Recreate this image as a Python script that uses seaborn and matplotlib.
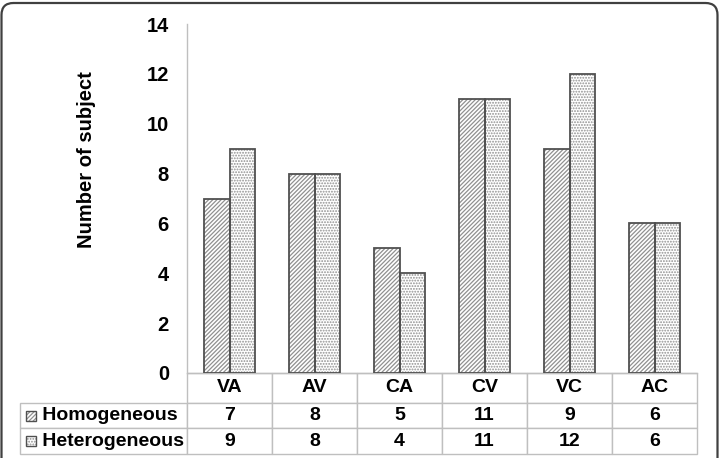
import matplotlib
matplotlib.use("Agg")
import matplotlib.pyplot as plt
from matplotlib.patches import Rectangle, FancyBboxPatch
from matplotlib.table import Table
import pandas as pd
import seaborn as sns

# data
categorias = ["VA", "AV", "CA", "CV", "VC", "AC"]
series = ["Homogeneous", "Heterogeneous"]
homogeneous = [7, 8, 5, 11, 9, 6]
heterogeneous = [9, 8, 4, 11, 12, 6]
hatches = ["////////", "......"]

df = pd.DataFrame({
    "grupo": categorias * 2,
    "serie": [series[0]] * len(categorias) + [series[1]] * len(categorias),
    "valor": homogeneous + heterogeneous,
})

sns.set_style("white")
plt.rcParams["font.family"] = ["Liberation Sans", "DejaVu Sans"]
plt.rcParams["hatch.linewidth"] = 0.9
plt.rcParams["text.color"] = "black"
plt.rcParams["axes.labelcolor"] = "black"
plt.rcParams["ytick.color"] = "black"

fig = plt.figure(figsize=(7.21, 4.58), dpi=100)
ax = fig.add_axes([187 / 721, 85 / 458, 510 / 721, 349 / 458])

sns.barplot(data=df, x="grupo", y="valor", hue="serie", hue_order=series,
            palette=["white", "white"], saturation=1, width=0.61,
            legend=False, ax=ax)

# hatch patterns + dark outlines
for cont, h in zip(ax.containers, hatches):
    for p in cont:
        p.set_hatch(h)
        p.set_edgecolor("#909090")
        p.set_linewidth(0)
        ax.add_patch(Rectangle(p.get_xy(), p.get_width(), p.get_height(),
                               fill=False, ec="#505050", lw=1.3, zorder=3))

ax.set_ylim(0, 14)
ax.set_xlim(-0.5, len(categorias) - 0.5)
ax.set_yticks(range(0, 15, 2))
ax.tick_params(axis="y", length=0, pad=13, labelsize=14.5, labelcolor="black")
for t in ax.get_yticklabels():
    t.set_fontweight("bold")
ax.tick_params(axis="x", bottom=False, labelbottom=False)
ax.set_xlabel("")
ax.set_ylabel("Number of subject", fontsize=14.5, fontweight="bold", color="black")
ax.yaxis.set_label_coords(-0.178, 0.61)

for s in ["top", "right"]:
    ax.spines[s].set_visible(False)
for s in ["left", "bottom"]:
    ax.spines[s].set_color("#bfbfbf")
    ax.spines[s].set_linewidth(1)

# data table under the chart
tab = Table(ax, bbox=[-167 / 510, -81 / 349, 677 / 510, 81 / 349])
alturas = [30, 25, 26]
for j, cat in enumerate(categorias):
    tab.add_cell(0, j + 1, width=85, height=alturas[0], text=cat, loc="center")
for i, (nome, vals) in enumerate(zip(series, [homogeneous, heterogeneous]), start=1):
    tab.add_cell(i, 0, width=167, height=alturas[i], text=" " + nome, loc="left")
    for j, v in enumerate(vals):
        tab.add_cell(i, j + 1, width=85, height=alturas[i], text=str(v), loc="center")
tab.auto_set_font_size(False)
tab.set_fontsize(14)
for cell in tab.get_celld().values():
    cell.set_edgecolor("#bfbfbf")
    cell.set_linewidth(1)
    cell.get_text().set_fontweight("bold")
    cell.get_text().set_color("black")
ax.add_table(tab)

# legend keys in the table
fig_px = fig.dpi_scale_trans
for yc, h in zip([0.425, 0.17], hatches):
    fig.add_artist(Rectangle((0.255, yc - 0.05), 0.10, 0.10, transform=fig_px,
                             facecolor="white", edgecolor="#909090", lw=0,
                             hatch=h))
    fig.add_artist(Rectangle((0.255, yc - 0.05), 0.10, 0.10, transform=fig_px,
                             fill=False, edgecolor="#505050", lw=1))

# rounded frame
fig.add_artist(FancyBboxPatch((0.015, -0.2), 7.16, 4.75, transform=fig_px,
                              boxstyle="round,pad=0,rounding_size=0.12",
                              fill=False, ec="#404040", lw=1.6))

fig.savefig("out.png", dpi=100)
